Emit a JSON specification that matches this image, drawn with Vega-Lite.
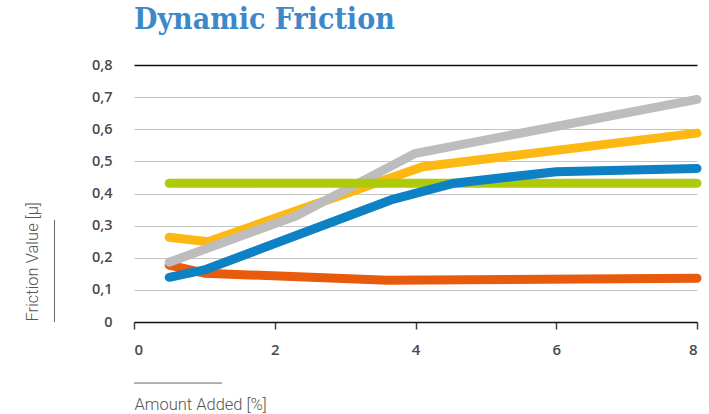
{
  "$schema": "https://vega.github.io/schema/vega-lite/v6.json",
  "width": 563,
  "height": 257,
  "autosize": {"type": "none"},
  "padding": {"left": 134, "top": 65, "right": 12, "bottom": 92},
  "background": "white",
  "title": {
    "text": "Dynamic Friction",
    "anchor": "start",
    "frame": "group",
    "font": "DejaVu Serif Condensed, DejaVu Serif",
    "fontWeight": "bold",
    "fontSize": 30,
    "color": "#3D88C9",
    "offset": 22
  },
  "datasets": {
    "friction": [
      {"series": "S1", "amount": 0.5, "mu": 0.177},
      {"series": "S1", "amount": 1.0, "mu": 0.152},
      {"series": "S1", "amount": 3.6, "mu": 0.130},
      {"series": "S1", "amount": 8.0, "mu": 0.136},
      {"series": "S2", "amount": 0.5, "mu": 0.264},
      {"series": "S2", "amount": 1.05, "mu": 0.250},
      {"series": "S2", "amount": 4.1, "mu": 0.483},
      {"series": "S2", "amount": 8.0, "mu": 0.588},
      {"series": "S3", "amount": 0.5, "mu": 0.186},
      {"series": "S3", "amount": 2.3, "mu": 0.330},
      {"series": "S3", "amount": 4.0, "mu": 0.525},
      {"series": "S3", "amount": 8.0, "mu": 0.693},
      {"series": "S4", "amount": 0.5, "mu": 0.432},
      {"series": "S4", "amount": 8.0, "mu": 0.432},
      {"series": "S5", "amount": 0.5, "mu": 0.139},
      {"series": "S5", "amount": 1.0, "mu": 0.162},
      {"series": "S5", "amount": 3.65, "mu": 0.380},
      {"series": "S5", "amount": 4.55, "mu": 0.432},
      {"series": "S5", "amount": 6.0, "mu": 0.468},
      {"series": "S5", "amount": 8.0, "mu": 0.478}
    ]
  },
  "config": {
    "view": {"stroke": null},
    "axis": {
      "labelFont": "Open Sans",
      "labelFontWeight": 600,
      "labelFontSize": 14.5,
      "labelColor": "#4A4A4A",
      "titleFont": "Roboto",
      "titleFontWeight": 300,
      "titleFontSize": 16.5,
      "titleColor": "#555555"
    },
    "axisX": {
      "grid": false,
      "domainColor": "#111111",
      "domainWidth": 1.5,
      "tickColor": "#444444",
      "tickWidth": 1.5,
      "tickSize": 7,
      "labelPadding": 13,
      "labelFontSize": 15,
      "titleAnchor": "start",
      "titleAlign": "left",
      "titleBaseline": "middle",
      "titleX": 0,
      "titleY": 82
    },
    "axisY": {
      "domain": false,
      "ticks": false,
      "labelOverlap": false,
      "labelPadding": 22,
      "grid": true,
      "gridColor": "#C4C4C4",
      "gridWidth": 1.2,
      "titleAngle": 270,
      "titleAlign": "left",
      "titleBaseline": "middle",
      "titleX": -102,
      "titleY": 256
    }
  },
  "layer": [
    {
      "data": {"name": "friction"},
      "mark": {"type": "line", "strokeWidth": 9, "strokeCap": "round", "strokeJoin": "round"},
      "encoding": {
        "x": {
          "field": "amount",
          "type": "quantitative",
          "scale": {"domain": [0, 8], "nice": false},
          "axis": {"values": [0, 2, 4, 6, 8], "format": "d", "title": "Amount Added [%]"}
        },
        "y": {
          "field": "mu",
          "type": "quantitative",
          "scale": {"domain": [0, 0.8], "nice": false},
          "axis": {
            "values": [0, 0.1, 0.2, 0.3, 0.4, 0.5, 0.6, 0.7, 0.8],
            "labelExpr": "datum.value == 0 ? '0' : replace(format(datum.value, '.1f'), '.', ',')",
            "gridColor": {"condition": {"test": "datum.value >= 0.79", "value": "#111111"}, "value": "#C4C4C4"},
            "gridWidth": {"condition": {"test": "datum.value >= 0.79", "value": 1.5}, "value": 1.2},
            "title": "Friction Value [µ]"
          }
        },
        "color": {
          "field": "series",
          "type": "nominal",
          "scale": {
            "domain": ["S1", "S2", "S3", "S4", "S5"],
            "range": ["#E85A0C", "#FDB813", "#BDBDBD", "#AFCA0B", "#0E80C4"]
          },
          "legend": null
        }
      }
    },
    {
      "data": {"values": [{"x0": 0, "x1": 1.25, "y0": -0.19}]},
      "mark": {"type": "rule", "color": "#666666", "strokeWidth": 1},
      "encoding": {
        "x": {
          "field": "x0",
          "type": "quantitative",
          "axis": {"values": [0, 2, 4, 6, 8], "format": "d", "title": "Amount Added [%]"}
        },
        "x2": {"field": "x1"},
        "y": {
          "field": "y0",
          "type": "quantitative",
          "axis": {
            "values": [0, 0.1, 0.2, 0.3, 0.4, 0.5, 0.6, 0.7, 0.8],
            "labelExpr": "datum.value == 0 ? '0' : replace(format(datum.value, '.1f'), '.', ',')",
            "gridColor": {"condition": {"test": "datum.value >= 0.79", "value": "#111111"}, "value": "#C4C4C4"},
            "gridWidth": {"condition": {"test": "datum.value >= 0.79", "value": 1.5}, "value": 1.2},
            "title": "Friction Value [µ]"
          }
        }
      }
    },
    {
      "data": {"values": [{"x0": -1.13, "y0": 0, "y1": 0.318}]},
      "mark": {"type": "rule", "color": "#666666", "strokeWidth": 1},
      "encoding": {
        "x": {
          "field": "x0",
          "type": "quantitative",
          "axis": {"values": [0, 2, 4, 6, 8], "format": "d", "title": "Amount Added [%]"}
        },
        "y": {
          "field": "y0",
          "type": "quantitative",
          "axis": {
            "values": [0, 0.1, 0.2, 0.3, 0.4, 0.5, 0.6, 0.7, 0.8],
            "labelExpr": "datum.value == 0 ? '0' : replace(format(datum.value, '.1f'), '.', ',')",
            "gridColor": {"condition": {"test": "datum.value >= 0.79", "value": "#111111"}, "value": "#C4C4C4"},
            "gridWidth": {"condition": {"test": "datum.value >= 0.79", "value": 1.5}, "value": 1.2},
            "title": "Friction Value [µ]"
          }
        },
        "y2": {"field": "y1"}
      }
    }
  ]
}
